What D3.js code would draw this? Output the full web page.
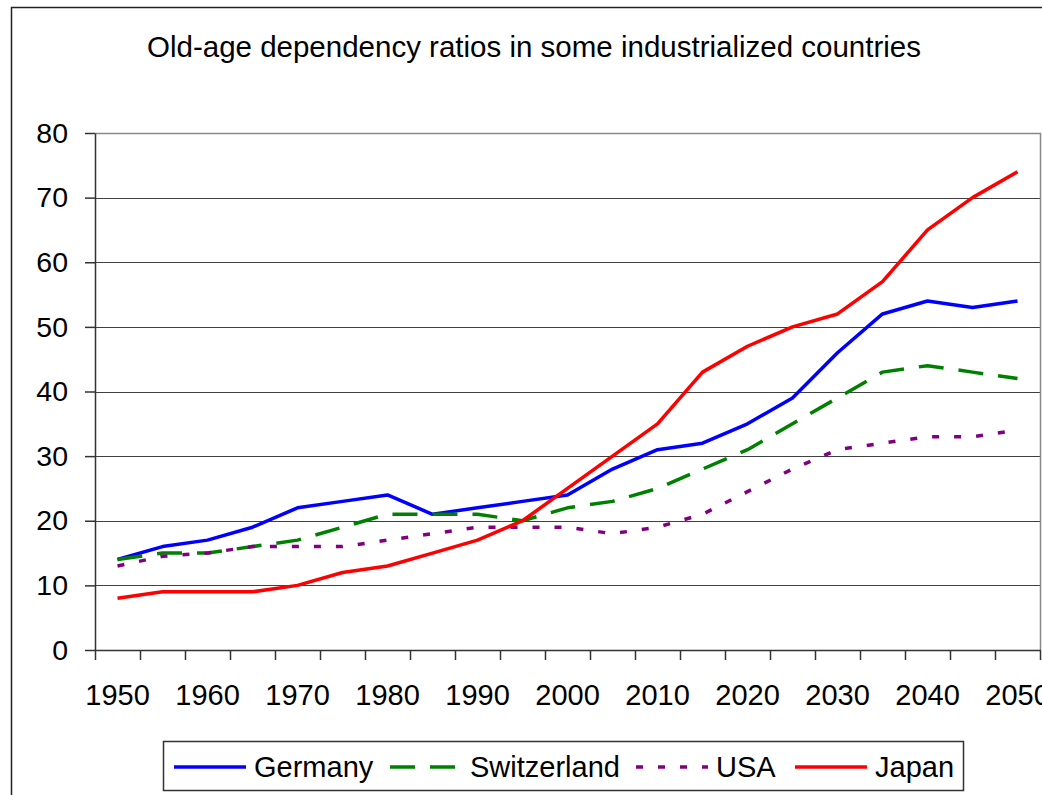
<!DOCTYPE html>
<html>
<head>
<meta charset="utf-8">
<script src="https://cdn.jsdelivr.net/npm/d3@7"></script>
<style>
  body { margin: 0; background: #fff; }
  svg { display: block; font-family: "Liberation Sans", Arial, sans-serif; }
</style>
</head>
<body>
<div id="chart"></div>
<script>
// Chart values
const years = [1950, 1955, 1960, 1965, 1970, 1975, 1980, 1985, 1990, 1995, 2000,
               2005, 2010, 2015, 2020, 2025, 2030, 2035, 2040, 2045, 2050]
const germany     = [14, 16, 17, 19, 22, 23, 24, 21, 22, 23, 24, 28, 31, 32, 35, 39, 46, 52, 54, 53, 54]
const switzerland = [14, 15, 15, 16, 17, 19, 21, 21, 21, 20, 22, 23, 25, 28, 31, 35, 39, 43, 44, 43, 42]
const usa         = [13, 14.5, 15, 16, 16, 16, 17, 18, 19, 19, 19, 18, 19, 21, 24.5, 28, 31, 32, 33, 33, 34]
const japan       = [8, 9, 9, 9, 10, 12, 13, 15, 17, 20, 25, 30, 35, 43, 47, 50, 52, 57, 65, 70, 74]
const yTicks = [0, 10, 20, 30, 40, 50, 60, 70, 80]
const xLabels = [1950, 1960, 1970, 1980, 1990, 2000, 2010, 2020, 2030, 2040, 2050]
const titleText = 'Old-age dependency ratios in some industrialized countries'

const seriesNames = ['Germany', 'Switzerland', 'USA', 'Japan']
const seriesValues = [germany, switzerland, usa, japan]

const chartWidth = 1042
const chartHeight = 795
const plotLeft = 95, plotRight = 1040, plotTop = 133, plotBottom = 650

// line look for each series
const styles = {
    Germany:     { color: '#0000FF', dash: null,    w: 3.5 },
    Switzerland: { color: '#008000', dash: '25,15', w: 3.5 },
    USA:         { color: '#800080', dash: '7,15',  w: 3.5 },
    Japan:       { color: '#FF0000', dash: null,    w: 3.5 }
}

let svg = d3.select('#chart')
            .append('svg')
            .attr('width', chartWidth)
            .attr('height', chartHeight)

// outer chart frame (cut off at right and bottom)
svg.append('rect')
    .attr('x', 11.5).attr('y', 7.5)
    .attr('width', 1200).attr('height', 1000)
    .attr('fill', 'none')
    .attr('stroke', '#222')
    .attr('stroke-width', 1.5)

svg.append('text')
    .attr('x', 534)
    .attr('y', 57)
    .attr('text-anchor', 'middle')
    .attr('font-size', 29.5)
    .text(titleText)

// scales
let x = d3.scaleBand().domain(years).range([plotLeft, plotRight]).padding(0)
let xEdge = d3.scaleLinear().domain([0, years.length]).range([plotLeft, plotRight])
let y = d3.scaleLinear().domain([0, 80]).range([plotBottom, plotTop])

// gridlines
svg.append('g')
    .selectAll('line')
    .data(yTicks.filter(d => d > 0 && d < 80))
    .enter()
    .append('line')
    .attr('x1', plotLeft).attr('x2', plotRight)
    .attr('y1', d => Math.round(y(d)) + 0.5)
    .attr('y2', d => Math.round(y(d)) + 0.5)
    .attr('stroke', '#404040')
    .attr('stroke-width', 1)

// plot area border (top and right)
svg.append('path')
    .attr('d', `M${plotLeft},${plotTop + 0.5}H${plotRight + 0.5}V${plotBottom}`)
    .attr('fill', 'none')
    .attr('stroke', '#888')
    .attr('stroke-width', 1.5)

// y axis
let yAxis = svg.append('g')
    .attr('transform', `translate(${plotLeft},0)`)
    .call(d3.axisLeft(y).tickValues(yTicks).tickSize(10).tickPadding(17).tickSizeOuter(0))
yAxis.attr('font-family', null)
yAxis.selectAll('text').attr('font-size', 28.5).attr('fill', '#000')
yAxis.selectAll('line, path').attr('stroke', '#333').attr('stroke-width', 1.5)

// x axis: tick marks between categories
let xAxis = svg.append('g')
    .attr('transform', `translate(0,${plotBottom})`)
    .call(d3.axisBottom(xEdge).tickValues(d3.range(0, years.length + 1)).tickFormat('').tickSize(10).tickSizeOuter(0))
xAxis.selectAll('line, path').attr('stroke', '#333').attr('stroke-width', 1.5)

// x labels under every other category
let xLab = svg.append('g')
    .attr('transform', `translate(0,${plotBottom})`)
    .call(d3.axisBottom(x).tickValues(xLabels).tickSize(0).tickPadding(34))
xLab.attr('font-family', null)
xLab.select('.domain').remove()
xLab.selectAll('text').attr('font-size', 29).attr('fill', '#000')

// lines
let line = d3.line()
    .x((d, i) => x(years[i]) + x.bandwidth() / 2)
    .y(d => y(d))

svg.append('g')
    .selectAll('path')
    .data(seriesNames)
    .enter()
    .append('path')
    .attr('d', (d, i) => line(seriesValues[i]))
    .attr('fill', 'none')
    .attr('stroke', d => styles[d].color)
    .attr('stroke-width', d => styles[d].w)
    .attr('stroke-dasharray', d => styles[d].dash)
    .attr('stroke-linejoin', 'round')

// legend
let legend = svg.append('g')
legend.append('rect')
    .attr('x', 163.5).attr('y', 741.5)
    .attr('width', 800).attr('height', 49)
    .attr('fill', '#fff')
    .attr('stroke', '#333')
    .attr('stroke-width', 1.5)

const legendX = [174, 390, 636, 795]
let items = legend.selectAll('g.item')
    .data(seriesNames)
    .enter()
    .append('g')
    .attr('class', 'item')
    .attr('transform', (d, i) => `translate(${legendX[i]},767)`)

items.append('line')
    .attr('x1', 0).attr('x2', 72)
    .attr('stroke', d => styles[d].color)
    .attr('stroke-width', d => styles[d].w)
    .attr('stroke-dasharray', d => styles[d].dash)

items.append('text')
    .attr('x', 80)
    .attr('dy', '0.36em')
    .attr('font-size', 29)
    .text(d => d)
</script>
</body>
</html>
